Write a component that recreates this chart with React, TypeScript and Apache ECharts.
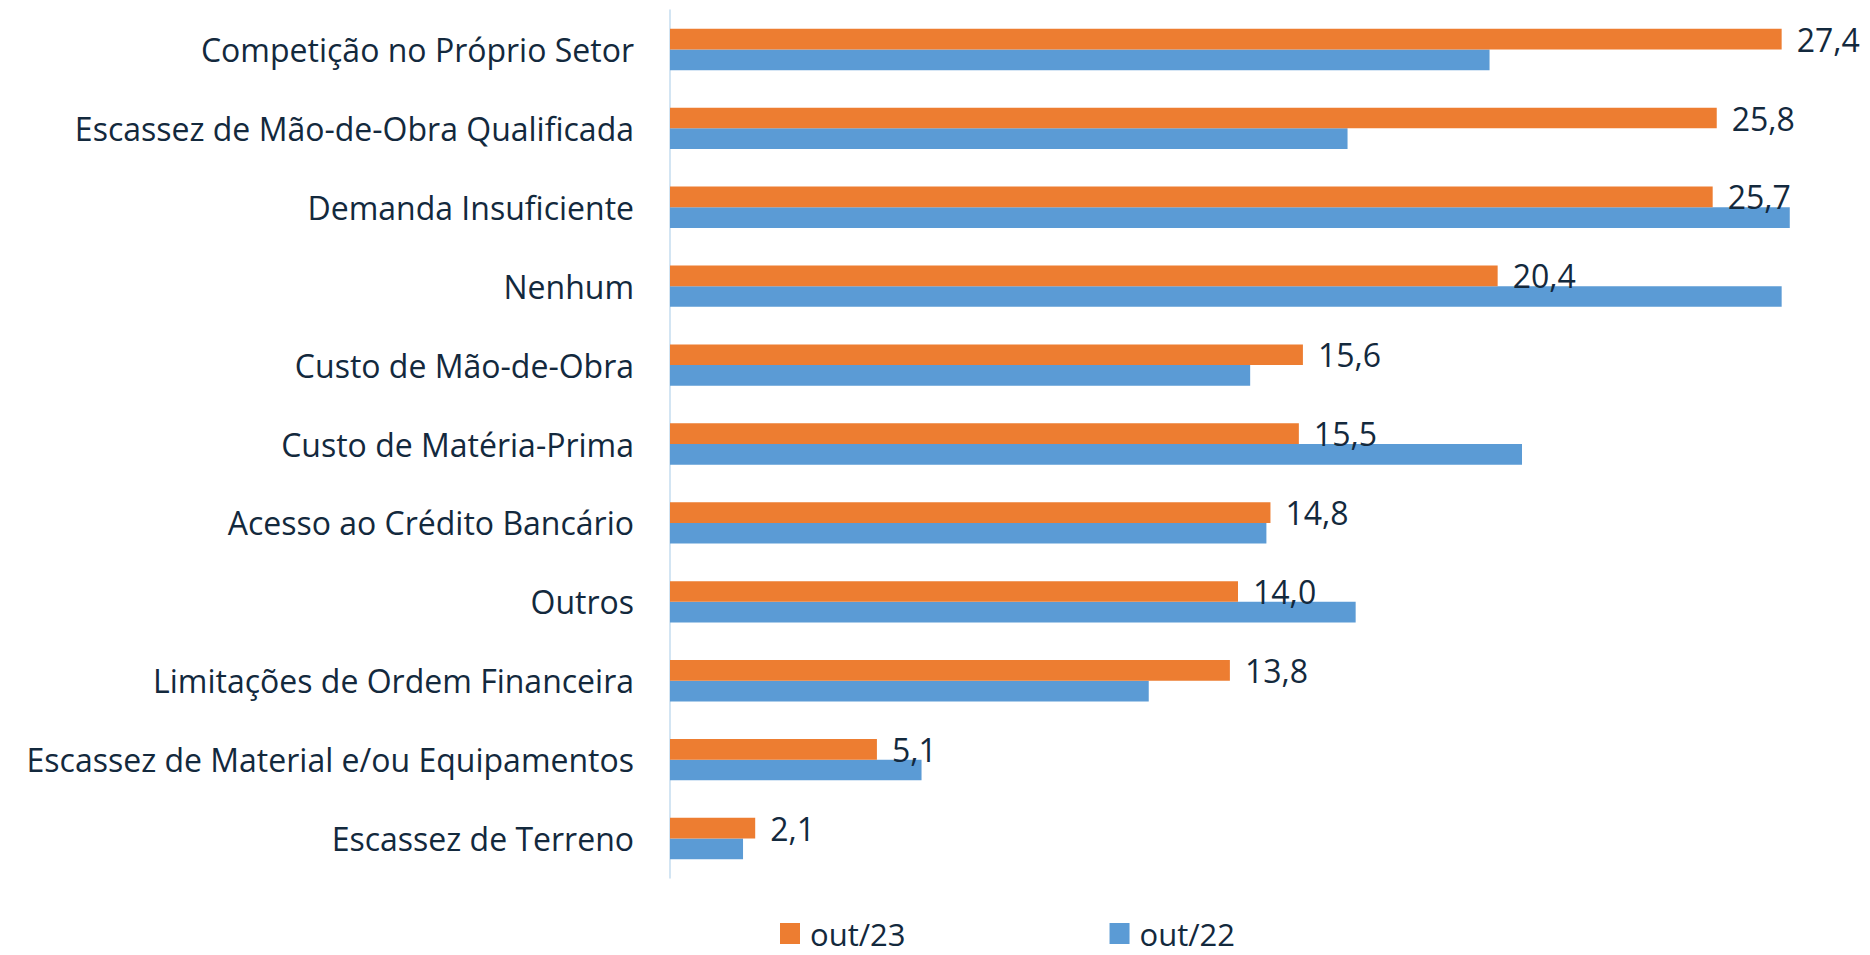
import React, { useEffect, useRef } from "react";
import * as echarts from "echarts";

const categories = [
  "Competição no Próprio Setor",
  "Escassez de Mão-de-Obra Qualificada",
  "Demanda Insuficiente",
  "Nenhum",
  "Custo de Mão-de-Obra",
  "Custo de Matéria-Prima",
  "Acesso ao Crédito Bancário",
  "Outros",
  "Limitações de Ordem Financeira",
  "Escassez de Material e/ou Equipamentos",
  "Escassez de Terreno",
];
const out23 = [27.4, 25.8, 25.7, 20.4, 15.6, 15.5, 14.8, 14.0, 13.8, 5.1, 2.1];
const out22 = [20.2, 16.7, 27.6, 27.4, 14.3, 21.0, 14.7, 16.9, 11.8, 6.2, 1.8];
const seriesNames = ["out/23", "out/22"];

const FONT = "'Open Sans', 'Noto Sans', sans-serif";
const TEXT = "#13293D";
const FS = 32;

export default function App() {
  const ref = useRef<HTMLDivElement>(null);
  useEffect(() => {
    if (!ref.current) return;
    const chart = echarts.init(ref.current, undefined, { renderer: "svg" });
    chart.setOption({
      animation: false,
      backgroundColor: "#ffffff",
      textStyle: { fontFamily: FONT },
      grid: { left: 670, right: 64, top: 10, bottom: 77 },
      legend: {
        data: seriesNames,
        left: 775,
        top: 913,
        itemWidth: 20,
        itemHeight: 21,
        itemGap: 204,
        icon: "rect",
        textStyle: {
          fontSize: 31,
          color: TEXT,
          fontFamily: FONT,
          padding: [0, 0, 0, 5],
        },
      },
      xAxis: {
        type: "value",
        min: 0,
        max: 28,
        show: false,
        splitLine: { show: false },
      },
      yAxis: {
        type: "category",
        data: categories,
        inverse: true,
        axisLine: { show: true, lineStyle: { color: "#C5DCEF", width: 1.5 } },
        axisTick: { show: false },
        axisLabel: { fontSize: FS, color: TEXT, fontFamily: FONT, margin: 36 },
      },
      series: [
        {
          name: seriesNames[0],
          type: "bar",
          data: out23,
          barGap: "0%",
          barCategoryGap: "47.6%",
          itemStyle: { color: "#ED7D31" },
          label: {
            show: true,
            position: "right",
            distance: 15,
            fontSize: FS,
            color: TEXT,
            fontFamily: FONT,
            formatter: (p: any) => p.value.toFixed(1).replace(".", ","),
          },
          z: 2,
        },
        {
          name: seriesNames[1],
          type: "bar",
          data: out22,
          barGap: "0%",
          barCategoryGap: "47.6%",
          itemStyle: { color: "#5B9BD5" },
          z: 1,
        },
      ],
    });
    return () => chart.dispose();
  }, []);
  return (
    <div
      ref={ref}
      style={{ position: "fixed", left: 0, top: 0, width: 1870, height: 955, background: "#fff" }}
    />
  );
}
